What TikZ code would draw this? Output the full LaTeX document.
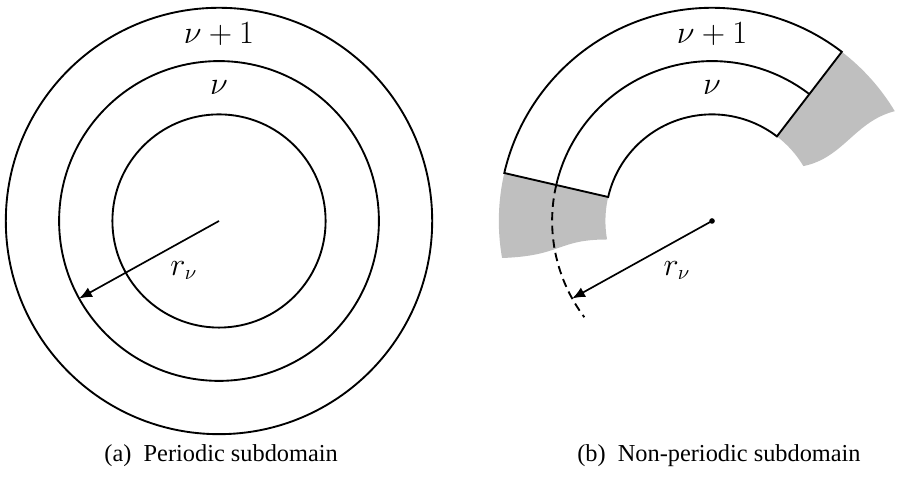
\documentclass[tikz,border=0pt]{standalone}
\usepackage{fontspec}
\setmainfont{Liberation Serif}
\usetikzlibrary{arrows.meta}

\begin{document}
\begin{tikzpicture}[
    anel/.style={line width=1pt},
    seta/.style={-{Latex[length=2.4mm, width=2mm]}, line width=0.9pt},
    sombra/.style={fill=gray!50, draw=none},
    tracejado/.style={line width=1pt, dash pattern=on 4.5pt off 2.8pt},
    rotulo/.style={font=\fontsize{16}{18}\selectfont},
    legenda/.style={font=\fontsize{13}{15}\selectfont}]
  \useasboundingbox (-4.109,-4.84) rectangle (12.758,4.146);
  % (a) subdominio periodico
  \coordinate (ca) at (0,0);
  \draw[anel] (ca) circle (2);
  \draw[anel] (ca) circle (3);
  \draw[anel] (ca) circle (4);
  \coordinate (pa) at (209:3);
  \draw[seta] (ca) -- (pa);
  \node[rotulo] (nua) at (0,2.5) {$\nu$};
  \node[rotulo] (numa) at (0,3.5) {$\nu+1$};
  \node[rotulo] (ra) at (-0.66,-0.93) {$r_\nu$};
  \node[legenda] (capa) at (0.04,-4.41) {(a)\ \ Periodic subdomain};
  % (b) subdominio nao periodico
  \coordinate (cb) at (9.25,0);
  \begin{scope}[shift={(cb)}]
    \fill[sombra] (167:4) arc[start angle=167, end angle=190, radius=4]
      .. controls +(1.13,0.04) and +(-0.94,0) .. (190:2)
      arc[start angle=190, end angle=167, radius=2] -- cycle;
    \fill[sombra] (52.5:4) arc[start angle=52.5, end angle=31, radius=4]
      .. controls +(-0.75,-0.19) and +(0.75,0.15) .. (31:2)
      arc[start angle=31, end angle=52.5, radius=2] -- cycle;
    \draw[anel] (52.5:4) arc[start angle=52.5, end angle=167, radius=4]
      -- (167:2) arc[start angle=167, end angle=52.5, radius=2] -- cycle;
    \draw[anel] (52.5:3) arc[start angle=52.5, end angle=167, radius=3];
    \draw[tracejado] (167:3) arc[start angle=167, end angle=217, radius=3];
    \coordinate (pb) at (209:3);
  \end{scope}
  \fill (cb) circle (1.5pt);
  \draw[seta] (cb) -- (pb);
  \node[rotulo] (nub) at (9.25,2.5) {$\nu$};
  \node[rotulo] (numb) at (9.25,3.5) {$\nu+1$};
  \node[rotulo] (rb) at (8.59,-0.93) {$r_\nu$};
  \node[legenda] (capb) at (9.38,-4.41) {(b)\ \ Non-periodic subdomain};
\end{tikzpicture}
\end{document}
